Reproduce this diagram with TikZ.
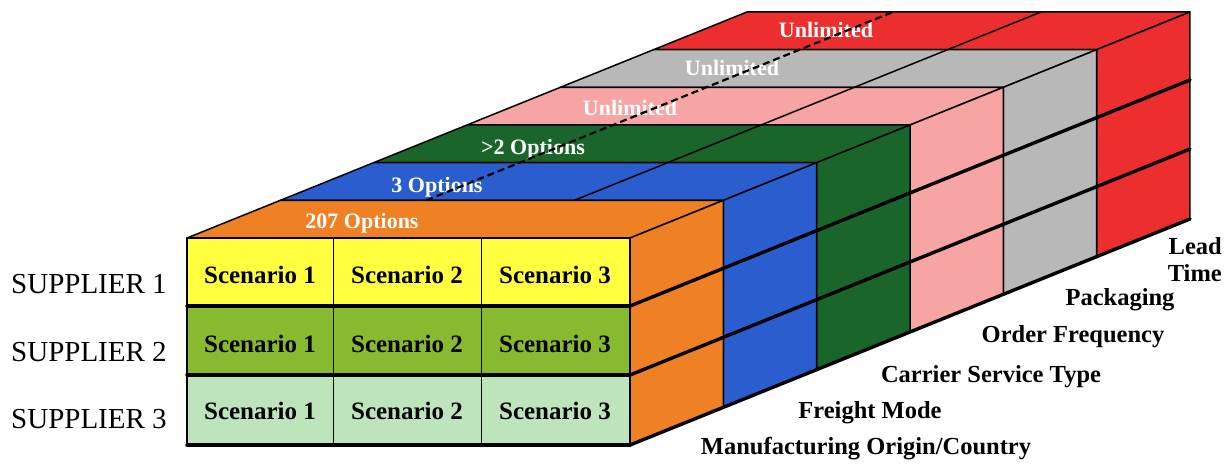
\documentclass[tikz,border=0pt]{standalone}
\usepackage{fontspec}
\setmainfont{Liberation Serif}
\definecolor{cOrange}{RGB}{240,128,36}
\definecolor{cBlue}{RGB}{42,94,206}
\definecolor{cDkGreen}{RGB}{26,102,42}
\definecolor{cPink}{RGB}{247,164,164}
\definecolor{cGray}{RGB}{184,184,184}
\definecolor{cRed}{RGB}{236,46,46}
\definecolor{cYellow}{RGB}{255,255,64}
\definecolor{cLime}{RGB}{136,186,48}
\definecolor{cMint}{RGB}{190,228,188}
\begin{document}
\begin{tikzpicture}[x=1pt,y=-1pt,
  toplabel/.style={text=white,font=\fontsize{22}{24}\selectfont\bfseries,anchor=base,inner sep=0pt},
  sidelabel/.style={text=black,font=\fontsize{24.5}{27}\selectfont\bfseries,anchor=base,inner sep=0pt},
  scen/.style={text=black,font=\fontsize{25}{27}\selectfont\bfseries,anchor=base,inner sep=0pt},
  supp/.style={text=black,font=\fontsize{29}{31}\selectfont,anchor=base west,inner sep=0pt},
  edge/.style={draw=black,line width=1.5pt,line join=round},
  rowline/.style={draw=black,line width=3.4pt,line cap=round}]
\useasboundingbox (0,0) rectangle (1231,463);

% depth step between slabs
\def\ddx{93.33}
\def\ddy{37.67}

% slabs, back to front: top strip and right face of each
\foreach \k/\col in {5/cRed,4/cGray,3/cPink,2/cDkGreen,1/cBlue,0/cOrange}{
  \pgfmathsetmacro\xa{187+\ddx*\k}
  \pgfmathsetmacro\ya{238-\ddy*\k}
  \pgfmathsetmacro\xb{\xa+443}
  \pgfmathsetmacro\yb{\ya+207}
  \filldraw[fill=\col,edge] (\xa,\ya) -- (\xb,\ya) -- (\xb+\ddx,\ya-\ddy) -- (\xa+\ddx,\ya-\ddy) -- cycle;
  \filldraw[fill=\col,edge] (\xb,\ya) -- (\xb+\ddx,\ya-\ddy) -- (\xb+\ddx,\yb-\ddy) -- (\xb,\yb) -- cycle;
}

% front face: one row per supplier
\fill[cYellow] (187,238) rectangle (630,306);
\fill[cLime] (187,306) rectangle (630,375);
\fill[cMint] (187,375) rectangle (630,445);
\draw[black,line width=1pt] (333,238) -- (333,445) (481,238) -- (481,445);
\draw[edge,line width=2pt] (187,238) rectangle (630,445);
\draw[rowline] (187,306) -- (630,306) (187,375) -- (630,375) (187,445) -- (630,445);

% row lines carried across the right faces
\draw[rowline] (630,306) -- ++(6*\ddx,-6*\ddy);
\draw[rowline] (630,375) -- ++(6*\ddx,-6*\ddy);
\draw[rowline] (630,445) -- ++(6*\ddx,-6*\ddy);

% scenario cells
\foreach \r/\yy in {1/283,2/352,3/419}{
  \foreach \c/\xx in {1/260,2/407,3/555}{
    \node[scen] (s\r\c) at (\xx,\yy) {Scenario \c};
  }
}

% supplier labels
\node[supp] (sup1) at (11,293) {SUPPLIER 1};
\node[supp] (sup2) at (11,361) {SUPPLIER 2};
\node[supp] (sup3) at (11,428) {SUPPLIER 3};

% option counts on the top strips
\node[toplabel] (t0) at (362,228) {207 Options};
\node[toplabel] (t1) at (437,192) {3 Options};
\node[toplabel] (t2) at (533,154) {>2 Options};
\node[toplabel] (t3) at (630,115) {Unlimited};
\node[toplabel] (t4) at (732,75) {Unlimited};
\node[toplabel] (t5) at (826,37) {Unlimited};

% column divisions running back over the top strips
\draw[black,line width=2.2pt,dash pattern=on 7pt off 4pt] (187+146+\ddx,238-\ddy) -- ++(5*\ddx,-5*\ddy);
\draw[black,line width=1.5pt] (187+294+\ddx,238-\ddy) -- ++(5*\ddx,-5*\ddy);

% dimension names along the bottom edge
\node[sidelabel,align=right,anchor=north east] (l5) at (1222,237) {Lead\\Time};
\node[sidelabel] (l4) at (1120,305) {Packaging};
\node[sidelabel] (l3) at (1073,342) {Order Frequency};
\node[sidelabel] (l2) at (991,382) {Carrier Service Type};
\node[sidelabel] (l1) at (870,418) {Freight Mode};
\node[sidelabel] (l0) at (866,454) {Manufacturing Origin/Country};
\end{tikzpicture}
\end{document}
